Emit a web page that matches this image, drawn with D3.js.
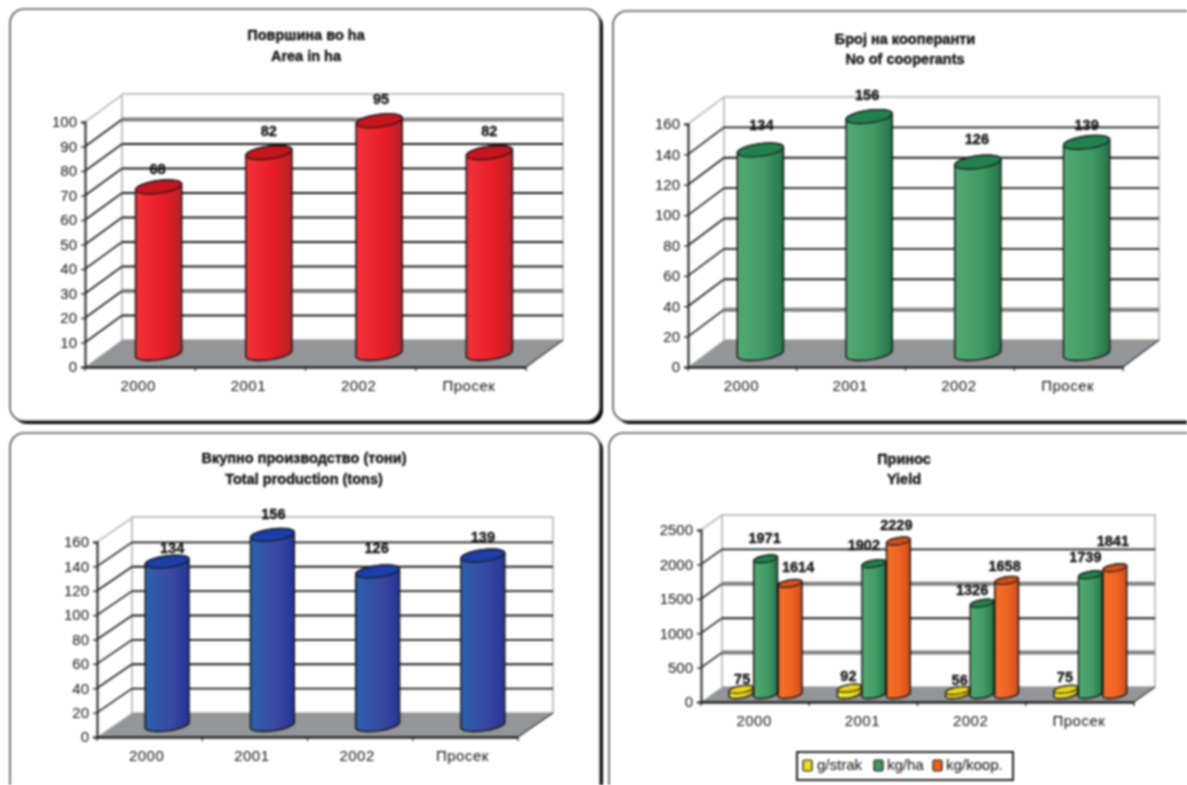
<!DOCTYPE html>
<html>
<head>
<meta charset="utf-8">
<script src="https://cdn.jsdelivr.net/npm/d3@7"></script>
<style>
  html, body { margin: 0; background: #fff; }
  svg { display: block; filter: blur(0.95px); }
  text { font-family: "Liberation Sans", Arial, sans-serif; fill: #111; }
  .ttl { font-weight: bold; font-size: 14.5px; text-anchor: middle; stroke: #000; stroke-width: 0.3px; }
  .val { font-weight: bold; font-size: 14.5px; text-anchor: middle; dominant-baseline: middle; stroke: #000; stroke-width: 0.3px; }
  .tck { font-size: 15px; }
  .cat { font-size: 15px; letter-spacing: 0.5px; }
</style>
</head>
<body>
<svg id="chart"></svg>
<script>
let width = 1187
let height = 785

// data
let categories = ['2000', '2001', '2002', 'Просек']
let areaValues = [68, 82, 95, 82]
let cooperantValues = [134, 156, 126, 139]
let productionValues = [134, 156, 126, 139]
let yieldSeries = ['g/strak', 'kg/ha', 'kg/koop.']
let strakValues = [75, 92, 56, 75]
let kgHaValues = [1971, 1902, 1326, 1739]
let kgKoopValues = [1614, 2229, 1658, 1841]
let areaTicks = [0, 10, 20, 30, 40, 50, 60, 70, 80, 90, 100]
let countTicks = [0, 20, 40, 60, 80, 100, 120, 140, 160]
let yieldTicks = [0, 500, 1000, 1500, 2000, 2500]

let colours = {
    red: { l: '#f0333a', m: '#e81c26', r: '#b92228', top: '#c4161e' },
    green: { l: '#52aa72', m: '#409a64', r: '#26744a', top: '#23804c' },
    blue: { l: '#2c62ac', m: '#3a48a2', r: '#263596', top: '#1c3ea6' },
    orange: { l: '#f4702a', m: '#ee6222', r: '#cf4e1c', top: '#d2501c' },
    yellow: { l: '#f7ea3a', m: '#eedd20', r: '#b8a818', top: '#e6d520' }
}

// layout of each panel, measured on the reference
let panels = [
    {
        box: [10, 9, 590, 412], title: ['Површина во ha', 'Area in ha'], titleX: 306, titleY: [35, 56],
        x0: 85, x1: 526, y0: 367, yMax: 122, dx: 37, dy: 27, topY: 94, catDx: -2,
        ticks: areaTicks, heavy: [20, 90], series: [areaValues], tint: ['red'],
        barR: 21, bx: 9.6, by: 7,
        nudge: [[[-1, -17], [0, -20], [2, -21], [0, -20]]]
    },
    {
        box: [613, 11, 590, 410], title: ['Број на кооперанти', 'No of cooperants'], titleX: 905, titleY: [39, 59],
        x0: 688, x1: 1123, y0: 367, yMax: 124, dx: 36, dy: 27, topY: 97, catDx: -1,
        ticks: countTicks, heavy: [20], series: [cooperantValues], tint: ['green'],
        barR: 21, bx: 9.6, by: 7,
        nudge: [[[1, -24], [-2, -20], [-1, -22], [0, -16]]]
    },
    {
        box: [10, 433, 590, 370], title: ['Вкупно производство (тони)', 'Total production (tons)'], titleX: 304, titleY: [458, 479],
        x0: 97, x1: 518, y0: 737, yMax: 542, dx: 35, dy: 24, topY: 517, catDx: -3,
        ticks: countTicks, heavy: [], series: [productionValues], tint: ['blue'],
        barR: 20, bx: 9, by: 6.5,
        nudge: [[[5, -13], [1, -20], [-1, -22], [0, -17]]]
    },
    {
        box: [609, 433, 590, 370], title: ['Принос', 'Yield'], titleX: 904, titleY: [459, 479],
        x0: 701, x1: 1134, y0: 702, yMax: 530, dx: 21, dy: 15, topY: 515, catDx: -1,
        ticks: yieldTicks, heavy: [500, 1500], series: [strakValues, kgHaValues, kgKoopValues], tint: ['yellow', 'green', 'orange'],
        barR: 10.5, bx: 5.6, by: 4,
        nudge: [
            [[1, -9], [-1, -11], [2, -9], [-1, -11]],
            [[-1, -20], [-10, -17], [-10, -12], [-5, -17]],
            [[8, -15], [-2, -15], [-2, -13], [-2, -26]]
        ],
        legend: { box: [797, 752, 216, 28], swatch: [803, 874, 933], text: [817, 887, 946], y: 766 }
    }
]

let svg = d3.select('#chart').attr('width', width).attr('height', height)
let defs = svg.append('defs')

Object.keys(colours).forEach((name) => {
    let grad = defs.append('linearGradient').attr('id', 'grad-' + name)
    grad.append('stop').attr('offset', '0%').attr('stop-color', colours[name].l)
    grad.append('stop').attr('offset', '60%').attr('stop-color', colours[name].m)
    grad.append('stop').attr('offset', '100%').attr('stop-color', colours[name].r)
})

let line = d3.line()

// body and lid of one cylinder, the round section is skewed along the chart depth
let drawCylinder = (g, cx, yBase, yTop, p, tint) => {
    let t0 = Math.atan2(p.bx, p.barR)
    let pt = (t, yc) => [cx + p.barR * Math.cos(t) + p.bx * Math.sin(t), yc - p.by * Math.sin(t)]
    let steps = d3.range(0, 25).map((i) => i / 24)
    let lower = steps.map((s) => pt(t0 - s * Math.PI, yBase))
    let upper = steps.map((s) => pt(t0 - Math.PI - s * Math.PI, yTop))
    g.append('path')
        .attr('d', line(lower.concat(upper)) + 'Z')
        .attr('fill', 'url(#grad-' + tint + ')')
        .attr('stroke', '#111')
        .attr('stroke-width', 1.4)
    g.append('path')
        .attr('d', line(d3.range(0, 49).map((i) => pt(i / 24 * Math.PI, yTop))) + 'Z')
        .attr('fill', colours[tint].top)
        .attr('stroke', '#111')
        .attr('stroke-width', 1.1)
}

let drawPanel = (p) => {
    let g = svg.append('g')
    let [bx, by, bw, bh] = p.box

    // frame with its dark drop edge
    g.append('rect').attr('x', bx + 3).attr('y', by + 3).attr('width', bw).attr('height', bh)
        .attr('rx', 14).attr('fill', '#000')
    g.append('rect').attr('x', bx).attr('y', by).attr('width', bw).attr('height', bh)
        .attr('rx', 14).attr('fill', '#fff').attr('stroke', '#555').attr('stroke-width', 1.6)

    g.selectAll('.ttl').data(p.title).enter().append('text')
        .attr('class', 'ttl')
        .attr('x', p.titleX)
        .attr('y', (d, i) => p.titleY[i] + 5)
        .text((d) => d)

    let domainMax = p.ticks[p.ticks.length - 1]
    let yscale = d3.scaleLinear().domain([0, domainMax]).range([p.y0, p.yMax])
    let xscale = d3.scaleBand().domain(categories).range([p.x0, p.x1])
    let outer = p.series.length > 1 ? 0.71 : 0
    let inner = d3.scaleBand().domain(d3.range(p.series.length)).range([0, xscale.bandwidth()]).paddingInner(0).paddingOuter(outer)

    // back wall, side wall and floor
    g.append('rect').attr('x', p.x0 + p.dx).attr('y', p.topY).attr('width', p.x1 - p.x0).attr('height', p.y0 - p.dy - p.topY)
        .attr('fill', '#fff').attr('stroke', '#bdbdbd').attr('stroke-width', 1.8)
    g.append('path')
        .attr('d', line([[p.x0, p.y0], [p.x1, p.y0], [p.x1 + p.dx, p.y0 - p.dy], [p.x0 + p.dx, p.y0 - p.dy]]) + 'Z')
        .attr('fill', '#939598')

    p.ticks.filter((v) => v > 0).forEach((v, i, all) => {
        let isTop = i === all.length - 1
        let wy = yscale(v) - p.dy
        g.append('line')
            .attr('x1', p.x0).attr('y1', yscale(v)).attr('x2', p.x0 + p.dx).attr('y2', wy)
            .attr('stroke', isTop ? '#bdbdbd' : '#222').attr('stroke-width', 1.6)
        if (!isTop) {
            let heavy = p.heavy.includes(v)
            g.append('line')
                .attr('x1', p.x0 + p.dx).attr('y1', wy).attr('x2', p.x1 + p.dx).attr('y2', wy)
                .attr('stroke', heavy ? '#808082' : '#1a1a1a').attr('stroke-width', heavy ? 4 : 1.9)
        }
    })

    // cylinders
    let mid = 0.5
    categories.forEach((c, ci) => {
        p.series.forEach((values, si) => {
            let cx = xscale(c) + inner(si) + inner.bandwidth() / 2 + p.dx * mid
            let yBase = yscale(0) - p.dy * mid
            let yTop = yscale(values[ci]) - p.dy * mid
            drawCylinder(g, cx, yBase, yTop, p, p.tint[si])
        })
    })

    // value labels go on top of every cylinder
    categories.forEach((c, ci) => {
        p.series.forEach((values, si) => {
            let cx = xscale(c) + inner(si) + inner.bandwidth() / 2 + p.dx * mid
            let yTop = yscale(values[ci]) - p.dy * mid
            let [nx, ny] = p.nudge[si][ci]
            g.append('text').attr('class', 'val').attr('x', cx + nx).attr('y', yTop + ny).text(values[ci])
        })
    })

    // axes
    let yAxis = d3.axisLeft(yscale).tickValues(p.ticks).tickSize(4).tickPadding(4).tickFormat(d3.format('d'))
    let yg = g.append('g').attr('transform', 'translate(' + p.x0 + ',0)').call(yAxis)
    yg.selectAll('text').attr('class', 'tck')
    yg.selectAll('line').attr('stroke', '#222').attr('stroke-width', 1.3)
    yg.select('.domain').attr('stroke', '#222').attr('stroke-width', 2)

    let xAxis = d3.axisBottom(xscale).tickSize(0).tickPadding(13)
    let xg = g.append('g').attr('transform', 'translate(0,' + p.y0 + ')').call(xAxis)
    xg.selectAll('text').attr('class', 'cat').attr('dx', p.catDx)
    xg.select('.domain').attr('stroke', '#222').attr('stroke-width', 2.4)
    categories.concat(['end']).forEach((c, i) => {
        let tx = p.x0 + i * xscale.bandwidth()
        g.append('line').attr('x1', tx).attr('y1', p.y0).attr('x2', tx).attr('y2', p.y0 + 4)
            .attr('stroke', '#222').attr('stroke-width', 1.2)
    })
    g.append('line').attr('x1', p.x1).attr('y1', p.y0).attr('x2', p.x1 + p.dx).attr('y2', p.y0 - p.dy)
        .attr('stroke', '#333').attr('stroke-width', 1.2)

    if (p.legend) {
        let l = p.legend
        g.append('rect').attr('x', l.box[0]).attr('y', l.box[1]).attr('width', l.box[2]).attr('height', l.box[3])
            .attr('fill', '#fff').attr('stroke', '#222').attr('stroke-width', 2)
        yieldSeries.forEach((name, i) => {
            g.append('rect').attr('x', l.swatch[i]).attr('y', l.y - 6).attr('width', 9).attr('height', 11)
                .attr('rx', 1.5).attr('fill', colours[p.tint[i]].m).attr('stroke', '#111').attr('stroke-width', 1.2)
            g.append('text').attr('class', 'tck').attr('x', l.text[i]).attr('y', l.y + 4).text(name)
        })
    }
}

panels.forEach(drawPanel)
</script>
</body>
</html>
